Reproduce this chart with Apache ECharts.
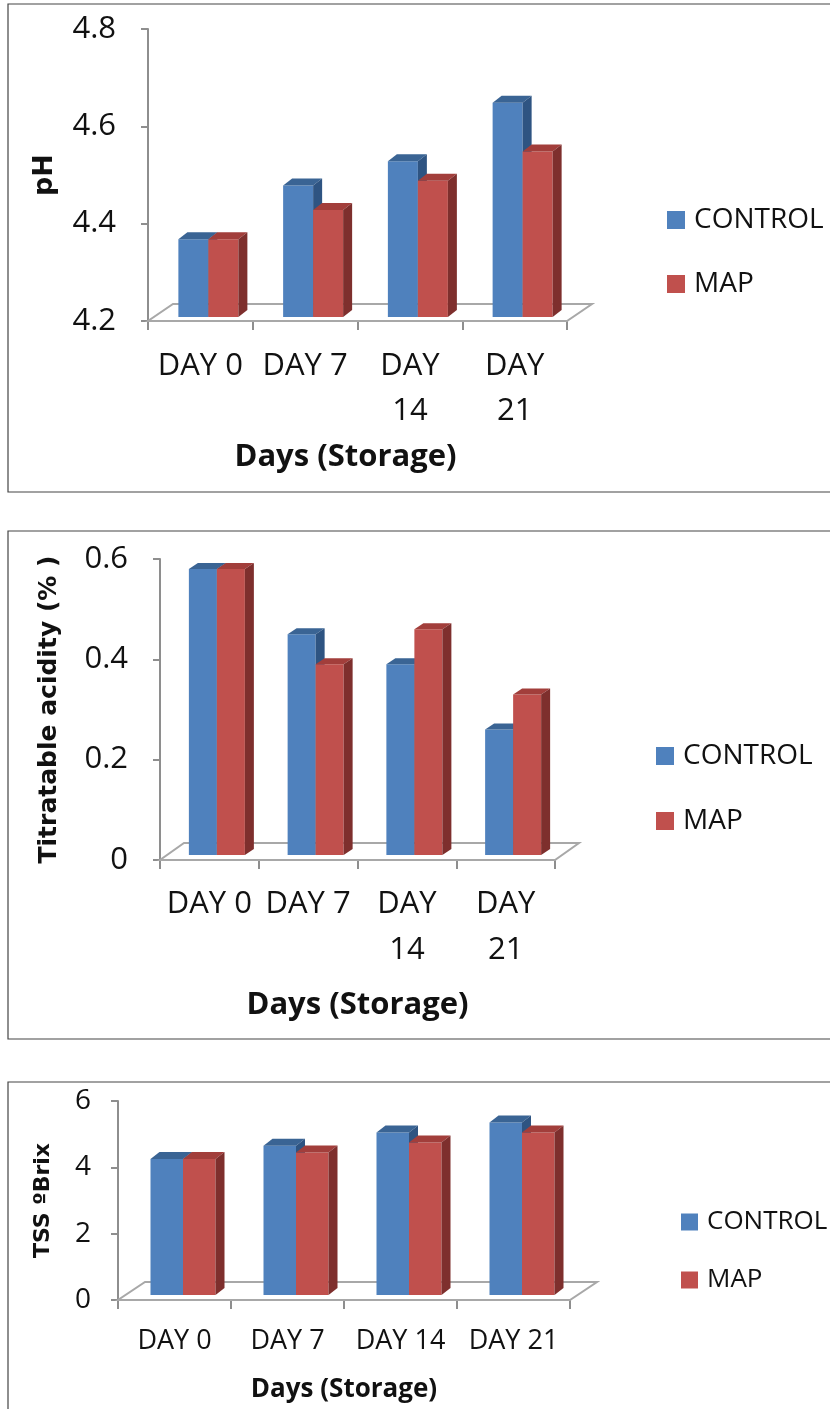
<!DOCTYPE html>
<html>
<head>
<meta charset="utf-8">
<script src="https://cdn.jsdelivr.net/npm/echarts@6/dist/echarts.min.js"></script>
<style>
  html, body { margin: 0; padding: 0; background: #fff; }
  #chart { width: 830px; height: 1409px; }
</style>
</head>
<body>
<div id="chart"></div>
<script>
// ---------- data ----------
const categories = ['DAY 0', 'DAY 7', 'DAY 14', 'DAY 21'];
const tickLabelsWrapped = ['DAY 0', 'DAY 7', 'DAY\n14', 'DAY\n21'];
const seriesNames = ['CONTROL', 'MAP'];

const phControl = [4.36, 4.47, 4.52, 4.64];
const phMap = [4.36, 4.42, 4.48, 4.54];

const acidControl = [0.57, 0.44, 0.38, 0.25];
const acidMap = [0.57, 0.38, 0.45, 0.32];

const tssControl = [4.1, 4.5, 4.9, 5.2];
const tssMap = [4.1, 4.3, 4.6, 4.9];

const phTicks = { min: 4.2, max: 4.8, interval: 0.2 };
const acidTicks = { min: 0, max: 0.6, interval: 0.2 };
const tssTicks = { min: 0, max: 6, interval: 2 };

// ---------- styling ----------
const faceColors = [
  { front: '#4F81BD', top: '#3A6494', side: '#2E5482' },
  { front: '#C0504D', top: '#A23E3B', side: '#7E2F2D' }
];
const axisGray = '#8E8E8E';
const floorGray = '#A8A8A8';
const textColor = '#111';

const panels = [
  {
    grid: { left: 148, top: 29, width: 419, height: 292 },
    ticks: phTicks, labels: tickLabelsWrapped, values: [phControl, phMap],
    yName: 'pH', yNameGap: 90, yNameSize: 27,
    xNameGap: 121, xNameSize: 31, xNamePad: [0, 24, 0, 0],
    yLabelSize: 31, yLabelMargin: 32, xLabelSize: 31, xLabelMargin: 23, xLineHeight: 45,
    bar: { w: 30, shiftX: 8, shiftY: -4, dx: 9, dy: -7 },
    floor: { dx: 25, dy: -17 },
    legend: { left: 662, top: 198, gap: 30, size: 28, lh: 34, icon: 18 }
  },
  {
    grid: { left: 160, top: 559, width: 395, height: 301 },
    ticks: acidTicks, labels: tickLabelsWrapped, values: [acidControl, acidMap],
    yName: 'Titratable acidity (% )', yNameGap: 98, yNameSize: 25,
    xNameGap: 130, xNameSize: 31, xNamePad: [0, 0, 0, 0],
    yLabelSize: 31, yLabelMargin: 32, xLabelSize: 31, xLabelMargin: 21, xLineHeight: 46,
    bar: { w: 28, shiftX: 7.5, shiftY: -5, dx: 9, dy: -6 },
    floor: { dx: 24, dy: -17 },
    legend: { left: 651, top: 734, gap: 31, size: 28, lh: 34, icon: 18 }
  },
  {
    grid: { left: 118, top: 1101, width: 452, height: 199 },
    ticks: tssTicks, labels: categories, values: [tssControl, tssMap],
    yName: 'TSS \u00BABrix', yNameGap: 64, yNameSize: 22,
    xNameGap: 77, xNameSize: 26, xNamePad: [0, 0, 0, 0],
    yLabelSize: 28, yLabelMargin: 27, xLabelSize: 27, xLabelMargin: 26, xLineHeight: 30,
    bar: { w: 32.5, shiftX: 8.5, shiftY: -5, dx: 9, dy: -7 },
    floor: { dx: 27, dy: -18 },
    legend: { left: 676, top: 1202, gap: 28, size: 26, lh: 30, icon: 17 }
  }
];

function barRenderer(bar, sIdx, minVal) {
  return function (params, api) {
    const cat = api.value(0);
    const val = api.value(1);
    const base = api.coord([cat, minVal]);
    const top = api.coord([cat, val]);
    const x0 = base[0] + bar.shiftX - bar.w + sIdx * bar.w;
    const x1 = x0 + bar.w;
    const yb = base[1] + bar.shiftY;
    const yt = top[1] + bar.shiftY;
    const c = faceColors[sIdx];
    return {
      type: 'group',
      children: [
        { type: 'rect', shape: { x: x0, y: yt, width: bar.w, height: yb - yt }, style: { fill: c.front } },
        { type: 'polygon', shape: { points: [[x0, yt], [x0 + bar.dx, yt + bar.dy], [x1 + bar.dx, yt + bar.dy], [x1, yt]] }, style: { fill: c.top } },
        { type: 'polygon', shape: { points: [[x1, yt], [x1 + bar.dx, yt + bar.dy], [x1 + bar.dx, yb + bar.dy], [x1, yb]] }, style: { fill: c.side } }
      ]
    };
  };
}

function floorRenderer(fl) {
  return function (params, api) {
    const cs = params.coordSys;
    const xl = cs.x, xr = cs.x + cs.width, yf = cs.y + cs.height;
    return {
      type: 'polygon',
      shape: { points: [[xl, yf], [xr, yf], [xr + fl.dx, yf + fl.dy], [xl + fl.dx, yf + fl.dy]] },
      style: { fill: '#fff', stroke: floorGray, lineWidth: 2 }
    };
  };
}

const grids = [], xAxes = [], yAxes = [], series = [], legends = [];

panels.forEach((p, i) => {
  grids.push(Object.assign({ containLabel: false }, p.grid));
  xAxes.push({
    type: 'category', gridIndex: i, data: p.labels,
    boundaryGap: true,
    axisLine: { show: true, lineStyle: { color: floorGray, width: 2 } },
    axisTick: { show: true, alignWithLabel: false, length: 9, lineStyle: { color: axisGray, width: 2 } },
    axisLabel: {
      interval: 0, margin: p.xLabelMargin, color: textColor,
      fontFamily: 'Open Sans', fontSize: p.xLabelSize, lineHeight: p.xLineHeight
    },
    name: 'Days (Storage)', nameLocation: 'middle', nameGap: p.xNameGap,
    nameTextStyle: { fontFamily: 'Open Sans', fontWeight: 'bold', fontSize: p.xNameSize, color: textColor, padding: p.xNamePad },
    splitLine: { show: false }
  });
  yAxes.push({
    type: 'value', gridIndex: i,
    min: p.ticks.min, max: p.ticks.max, interval: p.ticks.interval,
    axisLine: { show: true, lineStyle: { color: axisGray, width: 2 } },
    axisTick: { show: true, length: 7, lineStyle: { color: axisGray, width: 2 } },
    axisLabel: { margin: p.yLabelMargin, color: textColor, fontFamily: 'Open Sans', fontSize: p.yLabelSize },
    splitLine: { show: false },
    name: p.yName, nameLocation: 'middle', nameRotate: 90, nameGap: p.yNameGap,
    nameTextStyle: { fontFamily: 'DejaVu Sans', fontWeight: 'bold', fontSize: p.yNameSize, color: textColor }
  });
  series.push({
    type: 'custom', name: 'floor' + i, xAxisIndex: i, yAxisIndex: i,
    data: [[0, p.ticks.min]], clip: false, silent: true,
    renderItem: floorRenderer(p.floor), z: 1
  });
  p.values.forEach((vals, s) => {
    series.push({
      type: 'custom', name: seriesNames[s], xAxisIndex: i, yAxisIndex: i,
      data: vals.map((v, k) => [k, v]), clip: false,
      itemStyle: { color: faceColors[s].front },
      renderItem: barRenderer(p.bar, s, p.ticks.min), z: 3
    });
  });
  legends.push({
    orient: 'vertical', left: p.legend.left, top: p.legend.top,
    itemGap: p.legend.gap, itemWidth: p.legend.icon, itemHeight: p.legend.icon,
    icon: 'rect', selectedMode: false,
    data: seriesNames.map(n => ({ name: n, icon: 'rect' })),
    textStyle: { fontFamily: 'Open Sans', fontSize: p.legend.size, lineHeight: p.legend.lh, color: textColor, padding: [0, 0, 0, 4] }
  });
});

const chart = echarts.init(document.getElementById('chart'), null, { renderer: 'canvas' });
chart.setOption({
  animation: false,
  backgroundColor: '#fff',
  grid: grids,
  xAxis: xAxes,
  yAxis: yAxes,
  legend: legends,
  series: series,
  graphic: [
    { type: 'rect', shape: { x: 8, y: 4, width: 840, height: 488 }, style: { fill: 'none', stroke: '#444', lineWidth: 1.2 }, z: -1 },
    { type: 'rect', shape: { x: 8, y: 531, width: 840, height: 508 }, style: { fill: 'none', stroke: '#444', lineWidth: 1.2 }, z: -1 },
    { type: 'rect', shape: { x: 8, y: 1082, width: 840, height: 340 }, style: { fill: 'none', stroke: '#444', lineWidth: 1.2 }, z: -1 }
  ]
});
</script>
</body>
</html>
